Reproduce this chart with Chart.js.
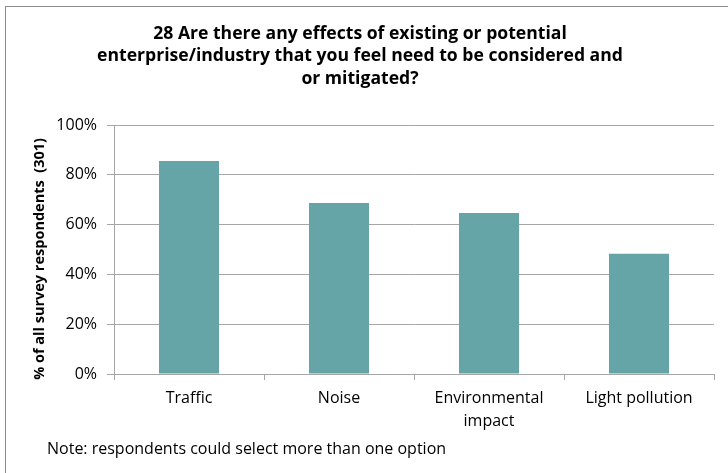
<!DOCTYPE html>
<html><head><meta charset="utf-8">
<script src="https://cdn.jsdelivr.net/npm/chart.js@4.4.0/dist/chart.umd.min.js"></script>
<style>html,body{margin:0;padding:0;background:#fff;}#wrap{width:728px;height:473px;position:relative;}</style>
</head><body><div id="wrap"><canvas id="c"></canvas></div>
<script>
const categories = ['Traffic', 'Noise', ['Environmental', 'impact'], 'Light pollution'];
const values = [85.6, 68.7, 64.7, 48.3];
const yTicks = [0, 20, 40, 60, 80, 100];
const titleLines = ['28 Are there any effects of existing or potential', 'enterprise/industry that you feel need to be considered and', 'or mitigated?'];
const yAxisTitle = '% of all survey respondents  (301)';
const noteText = 'Note: respondents could select more than one option';

const frame = {
  id: 'frame',
  beforeDraw(chart) {
    const g = chart.ctx;
    g.save();
    g.fillStyle = '#fff';
    g.fillRect(0, 0, chart.width, chart.height);
    g.strokeStyle = '#8c8c8c';
    g.lineWidth = 1;
    g.strokeRect(5.5, 6.5, 800, 800);
    g.restore();
  },
  afterDraw(chart) {
    const g = chart.ctx;
    g.save();
    g.font = '16px "Open Sans"';
    g.fillStyle = '#000';
    g.textAlign = 'left';
    g.textBaseline = 'middle';
    g.fillText(noteText, 47, 449);
    g.restore();
  }
};

Chart.defaults.font.family = '"Open Sans"';
Chart.defaults.color = '#000';

new Chart(document.getElementById('c'), {
  type: 'bar',
  data: {
    labels: categories,
    datasets: [{
      data: values,
      backgroundColor: '#65A5A7',
      borderWidth: 0,
      barPercentage: 0.4,
      categoryPercentage: 1.0
    }]
  },
  options: {
    responsive: true,
    maintainAspectRatio: false,
    animation: false,
    layout: { padding: { left: 6, right: 14, top: 0, bottom: 34 } },
    plugins: {
      legend: { display: false },
      tooltip: { enabled: false },
      title: {
        display: true,
        text: titleLines,
        font: { size: 17.6, weight: 'bold', lineHeight: 1.28 },
        color: '#000',
        padding: { top: 22.5, bottom: 35 }
      }
    },
    scales: {
      x: {
        grid: { offset: true, drawOnChartArea: false, drawTicks: true, tickLength: 6, color: '#a6a6a6' },
        border: { display: true, color: '#a6a6a6' },
        ticks: { font: { size: 16, lineHeight: 1.44 }, padding: 6.5, maxRotation: 0, autoSkip: false, color: '#000' },
        afterFit(s) { s.height = 65; }
      },
      y: {
        min: 0, max: 100,
        afterBuildTicks(s) { s.ticks = yTicks.map(v => ({ value: v })); },
        grid: { color: '#a6a6a6', tickLength: 7 },
        border: { display: true, color: '#a6a6a6' },
        ticks: { font: { size: 16 }, padding: 10, color: '#000', callback: v => v + '%' },
        title: {
          display: true,
          text: yAxisTitle + '     ',
          font: { size: 14.5, weight: 'bold', lineHeight: 1.2 },
          color: '#000',
          padding: { top: 25, bottom: 0 }
        },
        afterFit(s) { s.width = 108; }
      }
    }
  },
  plugins: [frame]
});
</script></body></html>
